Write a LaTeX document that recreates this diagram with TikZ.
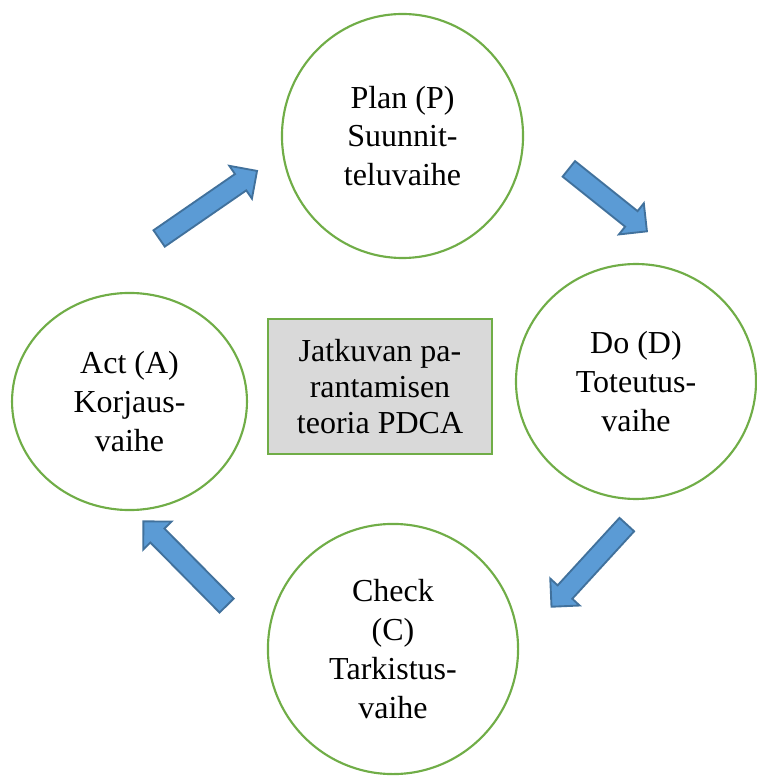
\documentclass[tikz,border=0pt]{standalone}
\usepackage{fontspec}
\setmainfont{Liberation Serif}
\usetikzlibrary{shapes.geometric,shapes.arrows}

\definecolor{phasegreen}{HTML}{70AD47}
\definecolor{arrowblue}{HTML}{5B9BD5}
\definecolor{arrowedge}{HTML}{41719C}
\definecolor{boxgray}{HTML}{D9D9D9}

\tikzset{
  phase/.style={ellipse, draw=phasegreen, line width=0.8pt, align=center, inner sep=0pt,
    font=\fontsize{12}{14.6}\selectfont},
  theory/.style={rectangle, draw=phasegreen, fill=boxgray, line width=0.8pt, align=center,
    minimum width=84pt, minimum height=50.6pt, font=\fontsize{12}{13.5}\selectfont},
  blockarrow/.style={single arrow, draw=arrowedge, fill=arrowblue, line width=0.7pt,
    single arrow head extend=3.75pt, inner xsep=0pt, inner ysep=3.375pt,
    sloped, allow upside down}
}

\begin{document}
\begin{tikzpicture}[x=0.375pt,y=-0.375pt]
	\useasboundingbox (0,0) rectangle (757,776);

	% the four phases
	\node[phase, minimum width=90.4pt, minimum height=91.5pt] (plan) at (402.5,136) {Plan (P)\\Suunnit-\\teluvaihe};
	\node[phase, minimum width=90pt, minimum height=88.1pt] (do) at (636,381.5) {Do (D)\\Toteutus-\\vaihe};
	\node[phase, minimum width=93.8pt, minimum height=93.8pt] (check) at (393,649) {Check\\(C)\\Tarkistus-\\vaihe};
	\node[phase, minimum width=88.1pt, minimum height=81.4pt] (act) at (129.5,401.5) {Act (A)\\Korjaus-\\vaihe};

	\node[theory] (pdca) at (380,386.5) {Jatkuvan pa-\\rantamisen\\teoria PDCA};

	% block arrows between the phases
	\coordinate (acttail) at (154,242);   \coordinate (plantip) at (254,173);
	\coordinate (plantail) at (564,165);  \coordinate (dotip) at (644,229);
	\coordinate (dotail) at (631,520);    \coordinate (checktip) at (554,604);
	\coordinate (checktail) at (231,610); \coordinate (acttip) at (146,524);

	\foreach \from/\to/\len in {acttail/plantip/44.6, plantail/dotip/37.5,
	                            dotail/checktip/41.8, checktail/acttip/44.4}{
	  \path (\from) -- node[blockarrow, minimum height=\len pt] {} (\to);
	}
\end{tikzpicture}
\end{document}
